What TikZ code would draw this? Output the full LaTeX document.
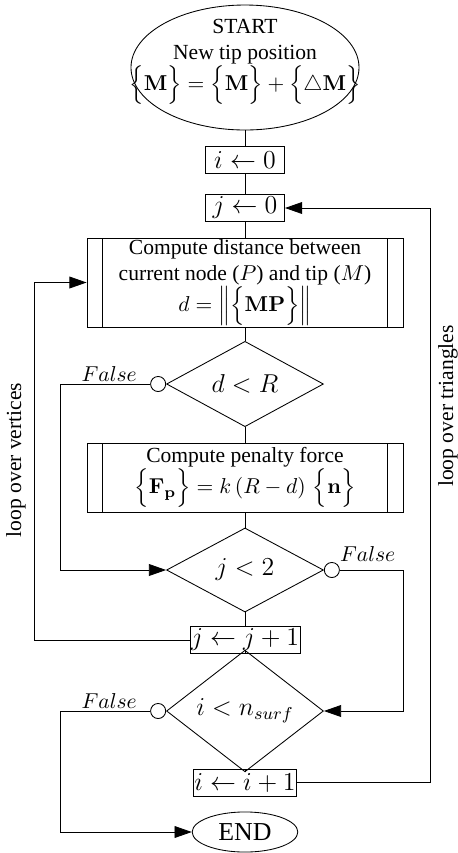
\documentclass[tikz,border=0pt]{standalone}
\usepackage[no-math]{fontspec}
\setmainfont{Liberation Serif}
\usetikzlibrary{shapes.geometric, arrows.meta, positioning}
\tikzstyle{startstop} = [ellipse, minimum width=105.8pt, minimum height=58pt, inner sep=0pt, draw=black]
\tikzstyle{endnode} = [ellipse, minimum width=49pt, minimum height=18.6pt, inner sep=0pt, draw=black, font=\large]
\tikzstyle{assign} = [rectangle, minimum width=36.7pt, minimum height=12.5pt, inner sep=1pt, draw=black, font=\large]
\tikzstyle{subproc} = [rectangle, minimum width=146.6pt, text width=132pt, align=flush center, inner sep=0pt, draw=black, path picture={\draw ([xshift=7pt]path picture bounding box.north west) -- ([xshift=7pt]path picture bounding box.south west) ([xshift=-7pt]path picture bounding box.north east) -- ([xshift=-7pt]path picture bounding box.south east);}]
\tikzstyle{decision} = [diamond, minimum width=72.8pt, minimum height=39pt, inner sep=0pt, draw=black, font=\large]
\tikzstyle{falsec} = [circle, minimum size=7pt, inner sep=0pt, draw=black, fill=white]
\tikzstyle{arrow} = [-{Triangle[length=8pt,width=5.5pt]}]
\tikzstyle{looptext} = [rotate=90]
\begin{document}
\begin{tikzpicture}[x=0.464pt, y=-0.464pt]
\useasboundingbox (0,0) rectangle (458,853);

\node (start) [startstop] at (245,67.5) {};
\node (starttxt) [align=center, inner sep=0pt] at (245,62) {START\\New tip position\\$\Big\{\mathbf{M}\Big\}=\Big\{\mathbf{M}\Big\}+\Big\{\triangle\mathbf{M}\Big\}$};
\node (i0) [assign] at (245,160) {$i\leftarrow 0$};
\node (j0) [assign] at (245,208) {$j\leftarrow 0$};
\node (dist) [subproc, minimum height=41.3pt] at (245,282.5) {Compute distance between\\current node ($P$) and tip ($M$)\\$d=\Big\|\Big\{\mathbf{MP}\Big\}\Big\|$};
\node (dR) [decision] at (245,384) {$d<R$};
\node (pen) [subproc, minimum height=32pt] at (245,477.5) {Compute penalty force\\$\Big\{\mathbf{F_p}\Big\}=k\left(R-d\right)\,\Big\{\mathbf{n}\Big\}$};
\node (j2) [decision] at (245,570) {$j<2$};
\node (jinc) [assign, inner sep=0.5pt] at (245,640) {$j\leftarrow j+1$};
\node (in) [decision] at (245,711) {$i<n_{surf}$};
\node (iinc) [assign, inner sep=0.5pt] at (245,782.5) {$i\leftarrow i+1$};
\node (end) [endnode] at (245,832) {END};

\node (f1) [falsec, left=0pt of dR] {};
\node (f2) [falsec, right=0pt of j2] {};
\node (f3) [falsec, left=0pt of in] {};
\node (fl1) [above left=0pt and 5pt of f1.west, inner sep=1pt] {$False$};
\node (fl2) [above right=0pt and 0pt of f2.north east, inner sep=1pt] {$False$};
\node (fl3) [above left=0pt and 5pt of f3.west, inner sep=1pt] {$False$};

\coordinate (lx) at (60,0);
\coordinate (rx) at (403,0);
\coordinate (vx) at (34,0);
\coordinate (tx) at (430,0);

\draw (start) -- (i0);
\draw (i0) -- (j0);
\draw (j0) -- (dist);
\draw (dist) -- (dR);
\draw (dR) -- (pen);
\draw (pen) -- (j2);
\draw (j2) -- (jinc);
\draw (jinc) -- (in);
\draw (in) -- (iinc);

\draw [arrow] (f1.west) -- (f1.west -| lx) |- (j2.west);
\draw [arrow] (f2.east) -- (f2.east -| rx) |- (in.east);
\draw [arrow] (f3.west) -- (f3.west -| lx) |- (end.west);
\draw [arrow] (jinc.west) -- (jinc.west -| vx) |- (dist.west);
\draw [arrow] (iinc.east) -- (iinc.east -| tx) |- (j0.east);

\node (vlabel) [looptext] at (16,460) {loop over vertices};
\node (tlabel) [looptext] at (448,406) {loop over triangles};

\end{tikzpicture}
\end{document}
